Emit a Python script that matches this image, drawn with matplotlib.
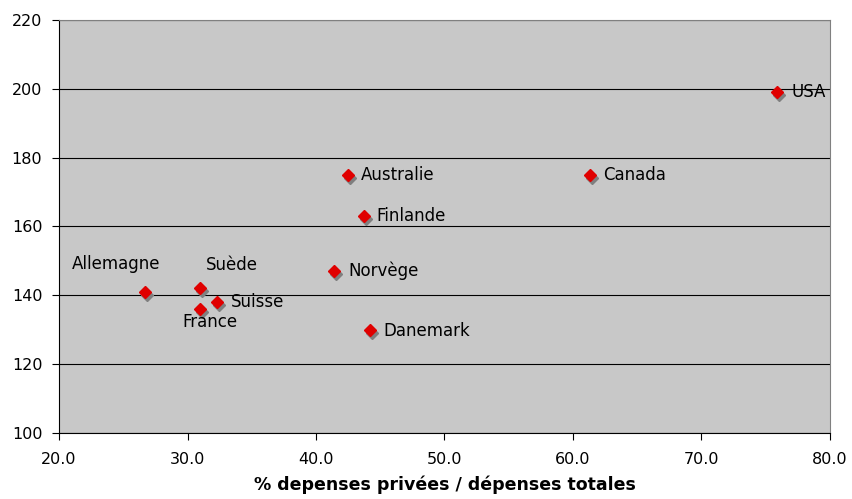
import matplotlib
matplotlib.use("Agg")
import matplotlib.pyplot as plt
import matplotlib.transforms as mtransforms

# Health spending: share of private spending (%) vs index
countries = ["USA", "Canada", "Australie", "Finlande", "Norvège", "Danemark",
             "Allemagne", "Suède", "Suisse", "France"]
private_share = [75.9, 61.3, 42.5, 43.7, 41.4, 44.2, 26.7, 31.0, 32.3, 31.0]
index_value = [199, 175, 175, 163, 147, 130, 141, 142, 138, 136]

# label offsets in pixels (dx, dy) and horizontal alignment
label_offsets = {
    "USA": (14, 0, "left"), "Canada": (13, 0, "left"), "Australie": (13, 0, "left"),
    "Finlande": (13, 0, "left"), "Norvège": (14, 0, "left"), "Danemark": (13, -1, "left"),
    "Allemagne": (-29, 28, "center"), "Suède": (32, 23, "center"),
    "Suisse": (14, 0, "left"), "France": (10, -13, "center"),
}

x_ticks = [20, 30, 40, 50, 60, 70, 80]
y_ticks = [100, 120, 140, 160, 180, 200, 220]

fig = plt.figure(figsize=(8.53, 4.99), dpi=100)
ax = fig.add_axes([0.0692, 0.1323, 0.9038, 0.8277])
ax.set_facecolor("#C8C8C8")

ax.set_xlim(20, 80)
ax.set_ylim(100, 220)
ax.set_xticks(x_ticks)
ax.set_xticklabels([f"{t:.1f}" for t in x_ticks])
ax.set_yticks(y_ticks)
ax.yaxis.grid(True, color="black", linewidth=0.8)
ax.set_axisbelow(True)

for side in ("top", "right"):
    ax.spines[side].set_color("#808080")
for side in ("left", "bottom"):
    ax.spines[side].set_color("black")
ax.tick_params(direction="out", length=5, labelsize=11.5)
ax.tick_params(axis="y", pad=7)
ax.tick_params(axis="x", pad=9)

shadow = mtransforms.offset_copy(ax.transData, fig=fig, x=2, y=-3, units="dots")
ax.plot(private_share, index_value, linestyle="none", marker="D", markersize=6,
        color="#7F7F7F", transform=shadow, zorder=3)
ax.plot(private_share, index_value, linestyle="none", marker="D", markersize=6,
        color="#E00000", zorder=4)

for name, x, y in zip(countries, private_share, index_value):
    dx, dy, ha = label_offsets[name]
    ax.annotate(name, (x, y), xytext=(dx, dy), textcoords="offset pixels",
                ha=ha, va="center", fontsize=12, zorder=5)

ax.set_xlabel("% depenses privées / dépenses totales", fontsize=12.5,
              fontweight="bold", labelpad=6)

fig.savefig("out.png", dpi=100)
